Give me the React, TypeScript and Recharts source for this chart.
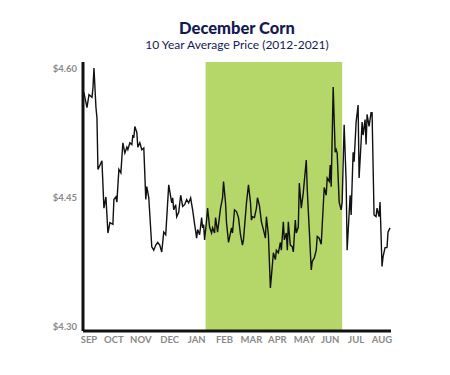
import React from "react";
import { LineChart, Line, XAxis, YAxis, ReferenceArea } from "recharts";

// trading-day position within the Sep–Aug season
const days: number[] = [
  0, 1, 4, 6, 9, 10, 11, 13, 14, 15, 19, 21, 23, 25, 27, 30, 31, 33, 34, 36, 38,
  40, 42, 44, 45, 47, 49, 50, 51, 52, 54, 55, 57, 59, 61, 63, 64, 66, 69, 71, 73,
  75, 77, 79, 81, 83, 86, 88, 89, 90, 91, 93, 94, 96, 98, 100, 102, 104, 106, 108,
  110, 112, 114, 115, 117, 119, 120, 121, 122, 124, 125, 127, 129, 130, 132, 133,
  135, 138, 140, 141, 143, 144, 146, 149, 150, 152, 154, 156, 158, 160, 161, 164,
  166, 168, 169, 170, 172, 174, 175, 177, 179, 181, 183, 184, 186, 188, 190, 191,
  193, 194, 196, 198, 199, 201, 202, 204, 205, 206, 208, 210, 211, 213, 214, 216,
  217, 219, 221, 224, 225, 227, 229, 230, 232, 234, 235, 237, 239, 242, 244, 245,
  247, 248, 249, 251, 253, 254, 255, 257, 259, 260, 262, 264, 265, 268, 269, 271,
  272, 274, 276, 277, 279, 280, 281, 283, 284, 285, 287, 289, 290, 292, 294, 295,
  297, 298, 300, 301, 303, 305, 306, 308,
];

// 10-year average price ($/bu)
const prices: number[] = [
  4.574, 4.572, 4.555, 4.57, 4.567, 4.578, 4.601, 4.555, 4.543, 4.483, 4.493, 4.438,
  4.451, 4.409, 4.421, 4.419, 4.448, 4.451, 4.445, 4.483, 4.479, 4.514, 4.502, 4.509,
  4.506, 4.514, 4.512, 4.523, 4.52, 4.533, 4.526, 4.509, 4.514, 4.506, 4.508, 4.448,
  4.463, 4.45, 4.393, 4.389, 4.395, 4.398, 4.395, 4.387, 4.41, 4.407, 4.465, 4.451,
  4.444, 4.45, 4.436, 4.442, 4.428, 4.433, 4.453, 4.44, 4.442, 4.448, 4.444, 4.45,
  4.436, 4.419, 4.403, 4.413, 4.407, 4.427, 4.415, 4.419, 4.401, 4.424, 4.438, 4.416,
  4.409, 4.415, 4.409, 4.427, 4.41, 4.438, 4.45, 4.469, 4.444, 4.421, 4.398, 4.415,
  4.409, 4.436, 4.434, 4.427, 4.407, 4.395, 4.401, 4.444, 4.465, 4.445, 4.424, 4.428,
  4.427, 4.438, 4.45, 4.441, 4.422, 4.413, 4.403, 4.428, 4.407, 4.345, 4.372, 4.386,
  4.378, 4.389, 4.386, 4.398, 4.389, 4.422, 4.401, 4.409, 4.389, 4.422, 4.395, 4.393,
  4.387, 4.424, 4.409, 4.416, 4.467, 4.438, 4.456, 4.494, 4.459, 4.413, 4.366, 4.376,
  4.38, 4.389, 4.405, 4.403, 4.396, 4.462, 4.453, 4.473, 4.469, 4.488, 4.463, 4.579,
  4.503, 4.506, 4.502, 4.445, 4.436, 4.445, 4.535, 4.469, 4.389, 4.453, 4.43, 4.503,
  4.492, 4.538, 4.558, 4.473, 4.515, 4.538, 4.523, 4.541, 4.512, 4.547, 4.533, 4.549,
  4.549, 4.43, 4.428, 4.438, 4.428, 4.445, 4.37, 4.381, 4.392, 4.392, 4.41, 4.415,
];

const monthLabels: string[] = ["SEP", "OCT", "NOV", "DEC", "JAN", "FEB", "MAR", "APR", "MAY", "JUN", "JUL", "AUG"];
const monthTicks: number[] = [6, 31, 58, 87, 114, 142, 169, 195, 222, 248, 274, 300];
const priceTicks: number[] = [4.3, 4.45, 4.6];
const highlightStart = 123;
const highlightEnd = 260;

const data = days.map((d, i) => ({ day: d, price: prices[i] }));

const FONT = "Lato, 'Open Sans', sans-serif";

export default function App() {
  return (
    <div style={{ position: "absolute", left: 0, top: 0, width: 450, height: 375, background: "#fff", fontFamily: FONT }}>
      <div style={{ position: "absolute", left: 0, width: 474, top: 18, textAlign: "center", fontSize: 16.5, fontWeight: 900, color: "#151a52", lineHeight: "20px" }}>
        December Corn
      </div>
      <div style={{ position: "absolute", left: 0, width: 474, top: 37, textAlign: "center", fontSize: 12, fontWeight: 400, color: "#151a52", lineHeight: "15px" }}>
        10 Year Average Price (2012-2021)
      </div>
      <LineChart width={450} height={375} data={data} margin={{ top: 62, right: 59, bottom: 14, left: 0 }}>
        <ReferenceArea x1={highlightStart} x2={highlightEnd} fill="#b5d76a" fillOpacity={1} stroke="none" ifOverflow="extendDomain" />
        <XAxis
          dataKey="day"
          type="number"
          domain={[0, 309]}
          ticks={monthTicks}
          tickFormatter={(v: number) => monthLabels[monthTicks.indexOf(v)] ?? ""}
          interval={0}
          height={30}
          tickLine={false}
          tickSize={0}
          tickMargin={5}
          axisLine={{ stroke: "#111", strokeWidth: 3 }}
          tick={{ fill: "#8a8a8a", fontSize: 9.5, fontWeight: 700, fontFamily: FONT }}
        />
        <YAxis
          type="number"
          domain={[4.295, 4.608]}
          ticks={priceTicks}
          tickFormatter={(v: number) => "$" + v.toFixed(2)}
          width={83}
          tickLine={false}
          tickSize={0}
          tickMargin={6}
          axisLine={{ stroke: "#111", strokeWidth: 3 }}
          tick={{ fill: "#8a8a8a", fontSize: 9.5, fontWeight: 700, fontFamily: FONT }}
          allowDataOverflow
        />
        <Line type="linear" dataKey="price" stroke="#111" strokeWidth={1.4} dot={false} isAnimationActive={false} />
      </LineChart>
    </div>
  );
}
